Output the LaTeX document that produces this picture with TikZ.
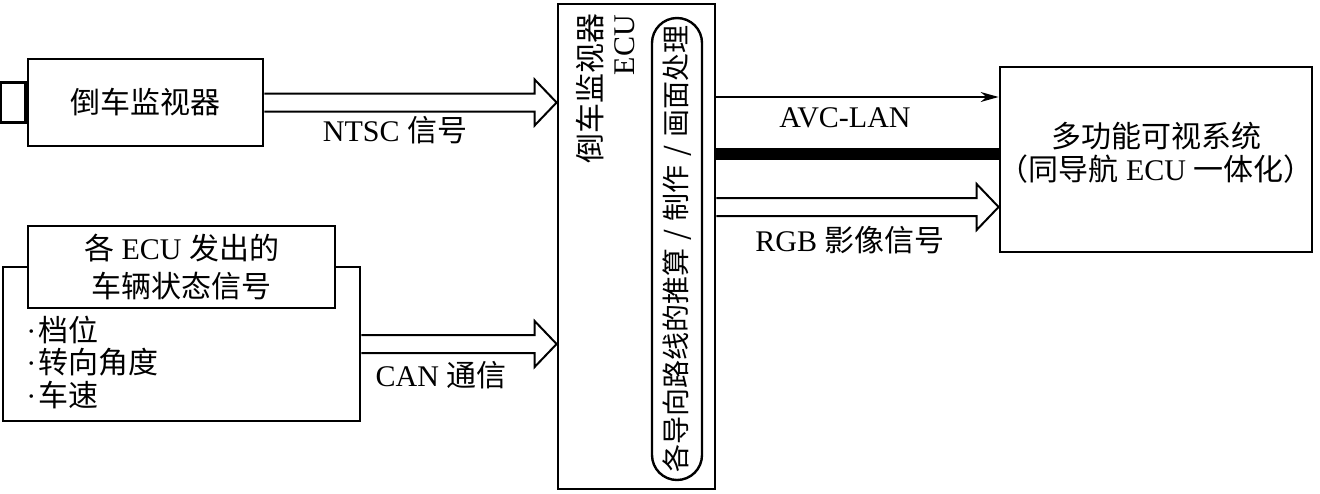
\documentclass[tikz,border=0pt]{standalone}
\usepackage{fontspec}
\setmainfont{Liberation Serif}
\newfontfamily\cjk{Noto Sans CJK SC}
\usetikzlibrary{calc,arrows.meta,shapes.misc}
\newcommand\hollowarr[2]{\draw[hollow] let \p1=(#1), \p2=(#2) in (\x1,\y1+4.5pt) -- (\x2-11pt,\y1+4.5pt) -- (\x2-11pt,\y1+11.5pt) -- (\x2,\y1) -- (\x2-11pt,\y1-11.5pt) -- (\x2-11pt,\y1-4.5pt) -- (\x1,\y1-4.5pt);}
\begin{document}
\begin{tikzpicture}[x=0.5pt,y=-0.5pt,
  font=\fontsize{15}{17}\selectfont,
  box/.style={draw, line width=1.4pt, inner sep=0pt},
  lbl/.style={inner sep=0pt},
  hollow/.style={draw, line width=1pt, fill=white, line join=miter}]
\useasboundingbox (0,0) rectangle (1320,493);
% left top: monitor
\node[box, minimum width=117.5pt, minimum height=43.5pt] (mon) at (145.5,102.5) {{\cjk 倒车监视器}};
\node[box, minimum width=12.5pt, minimum height=20pt, anchor=east] (stub) at (mon.west) {};
% left bottom: state signals
\node[box, minimum width=178.5pt, minimum height=77pt] (outer) at (181.5,344) {};
\node[box, fill=white, minimum width=153.5pt, minimum height=41pt, align=center,
  font=\fontsize{15}{19}\selectfont] (head) at (181.5,267) {{\cjk 各} ECU {\cjk 发出的}\\{\cjk 车辆状态信号}};
\node[lbl, anchor=west, align=left, font=\fontsize{15}{16.25}\selectfont] (bul) at (26,362)
  {·\kern1pt{\cjk 档位}\\·\kern1pt{\cjk 转向角度}\\·\kern1pt{\cjk 车速}};
% ECU
\node[box, minimum width=78.5pt, minimum height=242.5pt] (ecu) at (636.5,246.5) {};
\node[lbl, rotate=90] (ecut) at (590,88) {{\cjk 倒车监视器}};
\node[lbl, rotate=90] (ecue) at (625,45) {ECU};
\node[draw, line width=1.2pt, rounded rectangle, inner sep=0pt, rotate=90,
  minimum width=231pt, minimum height=25pt, font=\fontsize{14}{17}\selectfont] (pill) at (677,249)
  {{\cjk 各导向路线的推算\hspace{0.3em}/\hspace{0.3em}制作\hspace{0.3em}/\hspace{0.3em}画面处理}};
% right box
\node[box, minimum width=156pt, minimum height=92.5pt] (multi) at (1156,159.5) {};
\node[lbl, align=center, font=\fontsize{15}{16.5}\selectfont] (multit) at (1156,153)
  {{\cjk 多功能可视系统}\\{\cjk （同导航} ECU {\cjk 一体化）}};
% connectors
\hollowarr{mon.east}{mon.east -| ecu.west}
\hollowarr{outer.east}{outer.east -| ecu.west}
\coordinate (yavc) at (0,97);
\coordinate (ybar) at (0,154);
\coordinate (yrgb) at (0,207);
\draw[line width=0.8pt, -{Stealth[length=9pt,width=5pt]}] (ecu.east |- yavc) -- (multi.west |- yavc);
\draw[line width=6pt] (ecu.east |- ybar) -- (multi.west |- ybar);
\hollowarr{ecu.east |- yrgb}{multi.west |- yrgb}
% labels
\node[lbl] (ntsc) at (395,130) {NTSC {\cjk 信号}};
\node[lbl] (can) at (441,375) {CAN {\cjk 通信}};
\node[lbl] (avc) at (845,118) {AVC-LAN};
\node[lbl] (rgb) at (850,240) {RGB {\cjk 影像信号}};
\end{tikzpicture}
\end{document}
